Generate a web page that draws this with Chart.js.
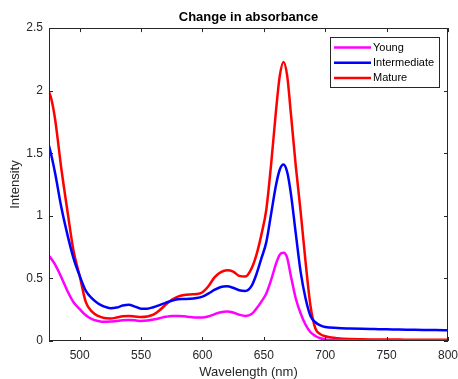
<!DOCTYPE html>
<html>
<head>
<meta charset="utf-8">
<script src="https://cdn.jsdelivr.net/npm/chart.js@4.4.1/dist/chart.umd.min.js"></script>
<style>
    html, body { margin: 0; padding: 0; background: #fff; }
</style>
</head>
<body>
<canvas id="absorbance-chart" width="458" height="379"></canvas>
<script>
'use strict';

// wavelength (nm) sampled from the figure
const wavelengths = [475, 477, 480, 485, 490, 495, 500, 505, 510, 515, 520, 525, 530, 535, 540, 545, 550, 555, 560, 565, 570, 575, 580, 585, 590, 595, 600, 605, 610, 615, 620, 625, 630, 635, 640, 644, 648, 652, 656, 660, 663, 666, 669, 672, 676, 680, 684, 688, 692, 696, 700, 710, 720, 730, 740, 750, 760, 770, 780, 790, 800];

const young = [0.68, 0.655, 0.61, 0.51, 0.4, 0.31, 0.255, 0.205, 0.175, 0.16, 0.153, 0.155, 0.16, 0.165, 0.167, 0.165, 0.16, 0.163, 0.172, 0.182, 0.193, 0.2, 0.2, 0.198, 0.192, 0.187, 0.187, 0.197, 0.215, 0.23, 0.235, 0.228, 0.21, 0.2, 0.215, 0.26, 0.315, 0.38, 0.49, 0.62, 0.69, 0.705, 0.665, 0.52, 0.34, 0.22, 0.13, 0.07, 0.04, 0.022, 0.013, 0.007, 0.005, 0.004, 0.004, 0.003, 0.003, 0.003, 0.003, 0.003, 0.003];

const intermediate = [1.56, 1.48, 1.34, 1.07, 0.85, 0.66, 0.52, 0.40, 0.34, 0.3, 0.275, 0.262, 0.267, 0.283, 0.29, 0.275, 0.258, 0.258, 0.27, 0.287, 0.305, 0.322, 0.333, 0.335, 0.337, 0.343, 0.355, 0.38, 0.41, 0.432, 0.437, 0.425, 0.405, 0.4, 0.44, 0.535, 0.66, 0.79, 1.02, 1.25, 1.37, 1.41, 1.35, 1.18, 0.86, 0.55, 0.34, 0.2, 0.15, 0.125, 0.112, 0.104, 0.1, 0.097, 0.095, 0.093, 0.092, 0.09, 0.088, 0.087, 0.085];

const mature = [1.99, 1.93, 1.77, 1.38, 1.04, 0.72, 0.52, 0.31, 0.235, 0.2, 0.183, 0.18, 0.187, 0.197, 0.2, 0.196, 0.192, 0.196, 0.21, 0.245, 0.29, 0.33, 0.355, 0.367, 0.372, 0.375, 0.39, 0.44, 0.51, 0.55, 0.565, 0.555, 0.52, 0.515, 0.58, 0.69, 0.85, 1.05, 1.42, 1.85, 2.12, 2.23, 2.12, 1.82, 1.40, 1.03, 0.63, 0.28, 0.10, 0.055, 0.038, 0.022, 0.015, 0.013, 0.012, 0.011, 0.011, 0.01, 0.01, 0.01, 0.01];

const seriesLabels = ['Young', 'Intermediate', 'Mature'];
const seriesColors = ['#FF00FF', '#0000FF', '#FF0000'];

const xTicks = [500, 550, 600, 650, 700, 750, 800];
const yTicks = [0, 0.5, 1, 1.5, 2, 2.5];

const axisColor = '#262626';
const fontFamily = 'Arial, "Liberation Sans", Helvetica, sans-serif';

function toPoints(values) {
    return wavelengths.map((w, i) => ({ x: w, y: values[i] }));
}

// MATLAB style box with inward ticks on all four sides
const axesBox = {
    id: 'axesBox',
    afterDatasetsDraw(chart) {
        const { ctx, chartArea: a, scales: { x, y } } = chart;
        const tickLen = 4;
        ctx.save();
        ctx.strokeStyle = axisColor;
        ctx.lineWidth = 1;
        ctx.beginPath();
        xTicks.forEach(v => {
            const px = Math.round(x.getPixelForValue(v)) + 0.5;
            ctx.moveTo(px, a.bottom); ctx.lineTo(px, a.bottom - tickLen);
            ctx.moveTo(px, a.top); ctx.lineTo(px, a.top + tickLen);
        });
        yTicks.forEach(v => {
            const py = Math.round(y.getPixelForValue(v)) + 0.5;
            ctx.moveTo(a.left, py); ctx.lineTo(a.left + tickLen, py);
            ctx.moveTo(a.right, py); ctx.lineTo(a.right - tickLen, py);
        });
        ctx.stroke();
        ctx.strokeRect(Math.round(a.left) + 0.5, Math.round(a.top) + 0.5,
            Math.round(a.right - a.left) - 1, Math.round(a.bottom - a.top) - 1);
        ctx.restore();
    }
};

// legend box inside the axes, top right
const insideLegend = {
    id: 'insideLegend',
    afterDraw(chart) {
        const { ctx, chartArea: a } = chart;
        const w = 109, h = 50;
        const left = Math.round(a.right) - 9 - w;
        const top = Math.round(a.top) + 9;
        ctx.save();
        ctx.fillStyle = '#fff';
        ctx.fillRect(left, top, w, h);
        ctx.strokeStyle = axisColor;
        ctx.lineWidth = 1;
        ctx.strokeRect(left + 0.5, top + 0.5, w, h);
        ctx.font = '11px ' + fontFamily;
        ctx.textBaseline = 'middle';
        ctx.textAlign = 'left';
        chart.data.datasets.forEach((ds, i) => {
            const cy = top + 10.5 + i * 15.2;
            ctx.strokeStyle = ds.borderColor;
            ctx.lineWidth = 2.5;
            ctx.beginPath();
            ctx.moveTo(left + 4, cy);
            ctx.lineTo(left + 41, cy);
            ctx.stroke();
            ctx.fillStyle = '#000';
            ctx.fillText(ds.label, left + 43, cy + 0.5);
        });
        ctx.restore();
    }
};

const ctx = document.getElementById('absorbance-chart').getContext('2d');

new Chart(ctx, {
    type: 'line',
    data: {
        datasets: [young, intermediate, mature].map((vals, i) => ({
            label: seriesLabels[i],
            data: toPoints(vals),
            borderColor: seriesColors[i],
            backgroundColor: seriesColors[i],
            borderWidth: 2.5,
            pointRadius: 0,
            cubicInterpolationMode: 'monotone',
            fill: false
        }))
    },
    options: {
        responsive: false,
        animation: false,
        devicePixelRatio: 1,
        layout: { padding: { left: 0, right: 10, top: 0, bottom: 0 } },
        plugins: {
            legend: { display: false },
            tooltip: { enabled: false },
            title: {
                display: true,
                text: 'Change in absorbance',
                fullSize: false,
                color: '#000',
                font: { family: fontFamily, size: 13, weight: 'bold', lineHeight: 1.2 },
                padding: { top: 9.5, bottom: 3 }
            }
        },
        scales: {
            x: {
                type: 'linear',
                min: 475, max: 800,
                afterBuildTicks: (scale) => { scale.ticks = xTicks.map(v => ({ value: v })); },
                afterFit: (scale) => {
                    scale.height = 38;
                    scale.paddingLeft = 0;
                    scale.paddingRight = 0;
                },
                grid: { display: false, drawTicks: false },
                border: { display: false },
                ticks: { color: axisColor, padding: 7, maxRotation: 0, font: { family: fontFamily, size: 12 } },
                title: {
                    display: true, text: 'Wavelength (nm)', color: axisColor,
                    font: { family: fontFamily, size: 13, lineHeight: 1 },
                    padding: { top: 0, bottom: 0 }
                }
            },
            y: {
                type: 'linear',
                min: 0, max: 2.5,
                afterBuildTicks: (scale) => { scale.ticks = yTicks.map(v => ({ value: v })); },
                afterFit: (scale) => {
                    scale.width = 49;
                    scale.paddingTop = 0;
                    scale.paddingBottom = 0;
                },
                grid: { display: false, drawTicks: false },
                border: { display: false },
                ticks: {
                    color: axisColor, padding: 6, font: { family: fontFamily, size: 12 },
                    callback: (value) => String(value)
                },
                title: {
                    display: true, text: 'Intensity', color: axisColor,
                    font: { family: fontFamily, size: 13, lineHeight: 1 },
                    padding: { top: 8.5, bottom: 0 }
                }
            }
        }
    },
    plugins: [axesBox, insideLegend]
});
</script>
</body>
</html>
